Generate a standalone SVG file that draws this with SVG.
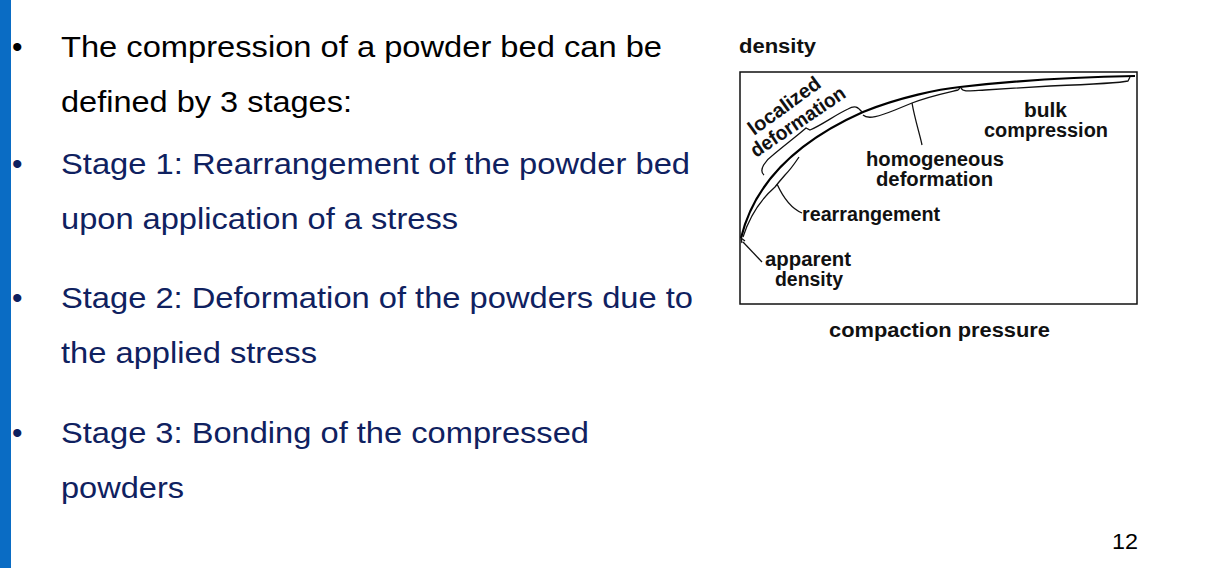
<svg xmlns="http://www.w3.org/2000/svg" width="1205" height="568" viewBox="0 0 1205 568">
<style>
.b{font-family:"Liberation Sans",Arial,sans-serif;font-size:30px}
.k{fill:#000}.n{fill:#0f2160}
.d{font-family:"Liberation Sans",Arial,sans-serif;font-size:20px;font-weight:bold;fill:#111}
.ln{fill:none;stroke:#111;stroke-width:1.3}
</style>
<rect width="1205" height="568" fill="#fff"/>
<rect x="0" y="0" width="11" height="568" fill="#0a6cc4"/>
<g id="text">
<text class="b k" x="12" y="57">•</text><text class="b k" x="61" y="57" textLength="601" lengthAdjust="spacingAndGlyphs">The compression of a powder bed can be</text>
<text class="b k" x="61" y="112" textLength="291" lengthAdjust="spacingAndGlyphs">defined by 3 stages:</text>
<text class="b n" x="12" y="174">•</text><text class="b n" x="61" y="174" textLength="629" lengthAdjust="spacingAndGlyphs">Stage 1: Rearrangement of the powder bed</text>
<text class="b n" x="61" y="229" textLength="397" lengthAdjust="spacingAndGlyphs">upon application of a stress</text>
<text class="b n" x="12" y="308">•</text><text class="b n" x="61" y="308" textLength="632" lengthAdjust="spacingAndGlyphs">Stage 2: Deformation of the powders due to</text>
<text class="b n" x="61" y="363" textLength="256" lengthAdjust="spacingAndGlyphs">the applied stress</text>
<text class="b n" x="12" y="443">•</text><text class="b n" x="61" y="443" textLength="528" lengthAdjust="spacingAndGlyphs">Stage 3: Bonding of the compressed</text>
<text class="b n" x="61" y="498" textLength="123" lengthAdjust="spacingAndGlyphs">powders</text>
<text font-family="Liberation Sans,Arial,sans-serif" font-size="22" x="1112" y="549" fill="#000" textLength="26" lengthAdjust="spacingAndGlyphs">12</text>
</g>
<g id="chart">
<text class="d" x="739" y="53" textLength="77" lengthAdjust="spacingAndGlyphs">density</text>
<rect x="740" y="72" width="397" height="232" fill="none" stroke="#111" stroke-width="1.5"/>
<path d="M741,238 C755,180 800,140 863,112 C900,97 940,89 960,87 C1020,80 1080,77 1135,76" fill="none" stroke="#000" stroke-width="2.2"/>
<text class="d" x="829" y="337" textLength="221" lengthAdjust="spacingAndGlyphs">compaction pressure</text>
</g>
<g id="connectors">
<path class="ln" d="M743,242 L762,262"/>
<path class="ln" d="M741,238 l4,3 M741,238 l1,5"/>
<path class="ln" d="M743,237 C750,215 760,200 775,187 L779,182 L785,175 C790,170 795,163 799,157"/>
<path class="ln" d="M777,184 C782,195 790,208 802,213"/>
<path class="ln" d="M764,175 C758,170 766,160 773,155 C785,145 798,135 806,128 L810,130 C822,125 835,115 848,109 C855,105 858,107 862,112"/>
<path class="ln" d="M863,115 C868,120 880,116 895,110 L912,103 C930,96 950,92 958,90 L960,88"/>
<path class="ln" d="M912,103 C915,120 920,135 922,145"/>
<path class="ln" d="M961,88 C963,92 968,91 985,90 L1050,86 C1100,84 1120,83 1128,81 L1130,77"/>
</g>
<g id="labels">
<text class="d" x="765" y="266" textLength="86" lengthAdjust="spacingAndGlyphs">apparent</text>
<text class="d" x="775" y="286" textLength="68" lengthAdjust="spacingAndGlyphs">density</text>
<text class="d" x="802" y="221" textLength="138" lengthAdjust="spacingAndGlyphs">rearrangement</text>
<text class="d" x="866" y="166" textLength="138" lengthAdjust="spacingAndGlyphs">homogeneous</text>
<text class="d" x="876" y="186" textLength="117" lengthAdjust="spacingAndGlyphs">deformation</text>
<text class="d" x="1024" y="117" textLength="43" lengthAdjust="spacingAndGlyphs">bulk</text>
<text class="d" x="984" y="137" textLength="124" lengthAdjust="spacingAndGlyphs">compression</text>
<text class="d" transform="translate(754,136) rotate(-36)">localized</text>
<text class="d" transform="translate(756,158) rotate(-34)" textLength="110" lengthAdjust="spacingAndGlyphs">deformation</text>
</g>
</svg>
